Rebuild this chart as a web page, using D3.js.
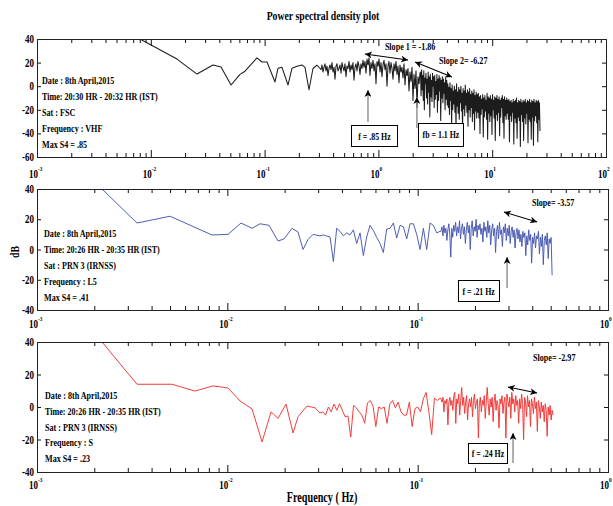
<!DOCTYPE html>
<html>
<head>
<meta charset="utf-8">
<script src="https://cdn.jsdelivr.net/npm/d3@7"></script>
<style>
  body { margin: 0; background: #fff; }
  svg { display: block; font-family: "Liberation Serif", "Times New Roman", serif; font-weight: bold; }
</style>
</head>
<body>
<svg id="chart" width="613" height="506"></svg>
<script>
// ---- data (Hz, dB) ----

// FSC / VHF : low frequency part
const fscFreq = [0.00804, 0.01699, 0.02547, 0.0352, 0.0414, 0.0507, 0.0608, 0.0673, 0.0857, 0.0949, 0.105,
  0.1234, 0.1312, 0.1422, 0.1606, 0.1741, 0.1926, 0.2131, 0.2265, 0.2455, 0.2662, 0.2886, 0.3068];
const fscDb = [40, 23, 10.3, 18, 16.3, 1, 10, 12.7, 24, 20.5, 20.5, 3.6, 15.3, 16, 1, 15.3, 17, 18, 16, -3, 15, 17.8, 15];
// FSC / VHF : dense parts (values spread evenly in log f over the range)
const fscBand1Range = [0.3068, 2.32];
const fscBand1Db = [14, 18, 12, 16, 19, 13, 17, 9, 15, 18, 14, 20, 12, 16, 6, 17, 19, 13, 15, 18, 11, 20, 16, 13, 19, 8, 17, 15, 21, 12,
  18, 14, 20, 5, 16, 19, 13, 21, 17, 10, 19, 15, 22,
  16, 21, 11, 23, 18, 24, 9, 20, 15, 22, 13, 19, 2, 21, 17, 23, 12, 20, 8, 18, 22, 14, 19, 0, 17, 21, 11, 20, 15, 6, 19,
  13, 21, 10, 17, 3, 18, 12, 16, 7, 19, 1, 14, 9,
  15, -4, 12, 4, 16, -12, 10, -2, 13, -18, 8, 2, 11];
const fscBand2Range = [2.32, 26.3];
const fscBand2Db = [12, -8, 14, -3, 9, -12, 13, -20, 7, 2, 11, -10, 6, -15, 12, -5, 8, -26, 10, -9, 5, -13, 11, 0, 8, -18, 9, -11, 4, -7,
  10, -22, 6, -12, 9, -4, 7, -29, 5, -10, 8, -14, 6, -6, 3, -20, 7, -11, 5, -16,
  2, -18, -1, -24, 3, -12, -2, -33, 1, -20, -4, -15, 0, -22, -3, -36, 2, -17, -5, -23, -1, -28, -3, -14, 0, -21, -6, -38, -2, -19,
  -4, -25, 1, -16, -6, -22, -3, -34, -5, -20, -2, -26, -7, -18, -4, -30, -6, -23, -3, -37, -8, -21, -5, -27, -7,
  -22, -6, -27, -9, -40, -8, -24, -11, -19, -7, -43, -10, -26, -8, -21, -12, -28, -6, -45, -9, -23, -10, -30, -8, -25, -11, -41, -7, -20, -12,
  -27, -9, -46, -10, -24, -8, -29, -11, -22, -9, -42, -12, -26, -10, -18, -8, -31, -11, -44, -9, -25, -12, -28, -10, -23,
  -12, -28, -11, -47, -13, -25, -12, -30, -14, -22, -11, -49, -13, -27, -12, -31, -10, -44, -14, -26, -12, -29, -13, -51, -11, -24, -14, -30, -12, -46,
  -13, -27, -11, -32, -14, -23, -12, -48, -13, -28, -11, -30, -14, -45, -12, -26, -13, -50, -11, -29, -14, -25, -12, -31, -13, -47, -12, -28, -14, -38];

// PRN 3 / L5
const l5Freq = [0.002196, 0.003353, 0.005001, 0.00831, 0.01009, 0.0118, 0.01348, 0.01485, 0.01656, 0.01847, 0.01986,
  0.02188, 0.02352, 0.02499, 0.02655, 0.0282, 0.03069];
const l5Db = [40, 17.5, 22, 9.6, 10, 17.5, 14, 17, 16, 5.6, 7, 14, 11.6, 0, 6.6, 10, 9];
const l5Band1Range = [0.03069, 0.1311];
const l5Band1Db = [9.6, 8.9, 8.3, -8, 14, 12, 9, 11, 9.6, 13, 4, 11, -4, 8.3, 16, 12.5, 8, 4, -2, 13.5, 14, 17.5, 7.6, 16, 15, 7, 17, 17,
  10, 0, 14, 0, 17.5, 16, 11, 12];
const l5Band2Range = [0.1311, 0.5085];
const l5Band2Db = [12, 15, 9, 16, 11, 14, 6, 13, 17, 10, -5, 14, 8, 16, 12, 18, 9, 15, 11, 19, 7, 14, 17, 10, 15, 4, 13, 18, 11, 16,
  0, 14, 19, 9, 15, 12, 20, 8, 16, 13,
  17, 10, 14, 5, 18, 12, 15, 8, 19, 11, 16, 3, 13, 17, 9, 14, -2, 12, 16, 7, 18, 10, 13, 2, 15, 11, 17, 6, 14, 9,
  16, 4, 12, 15, 8, 13, 1, 11, 14, 7,
  13, 5, 10, 2, 12, 8, 11, -4, 9, 3, 13, 6, 10, -9, 8, 4, 11, 1, 9, 7, 12, -3, 8, 2, 10, -10, 6, 9, 3, 11, -6, 7, 4, 8, -17];

// PRN 3 / S
const sFreq = [0.002196, 0.003353, 0.005123, 0.006766, 0.008412, 0.01009, 0.01166, 0.01348, 0.01522, 0.01697, 0.01847,
  0.02035, 0.02214, 0.02352, 0.02623, 0.0289, 0.03069];
const sDb = [40, 14, 14, 9.8, 13, 11.7, 3.7, -1.2, -21.5, -3, -7, 1.8, -16, -6, 0.6, -0.5, -3.7];
const sBand1Range = [0.03069, 0.1311];
const sBand1Db = [-3, -5, 0, -3, 1.8, -2, 2, -2, -6, -5.5, -18.5, 1, -0.5, -3, -5, -10, 2.5, 4, 0.5, -12, 0, -1, 0, -10, 1.8, 4,
  -0.5, 3, -3, -5, -5, 3, -12, -1, 0, -3, 5, 9, -3, -17, 5.5, 4, 5.5];
const sBand2Range = [0.1311, 0.5146];
const sBand2Db = [5, 3, 6, -3, 4, 2, 5, -11, 3, 6, 1, 4, -2, 7, 9, -10, 5, 2, 8, -5, 4, 12, 1, 6, -4, 3, 7, -8, 2, 5,
  0, 6, -6, 4, 8, -1, 3, 5, -19, 2,
  6, -3, 4, 1, 7, -7, 3, 12, 2, -5, 5, 0, 6, -9, 3, 8, -2, 4, 1, -13, 5, 2, 7, -4, 3, 6, -19, 8, 4, 0,
  6, -7, 9, 2, 5, -3, 7, 1, 4, -10,
  5, -1, 8, 2, -20, 6, 3, -6, 7, 0, 4, -12, 5, 2, -4, 6, -1, 3, -15, 4, 0, -7, 3, -3, 1, -9, 2, -2, -18, 0, -5, 1, -8, -2, -5];

// labels
const titleText = "Power spectral density plot";
const xLabel = "Frequency ( Hz)";
const yLabel = "dB";
const fscInfo = ["Date : 8th April,2015", "Time: 20:30 HR - 20:32 HR (IST)", "Sat : FSC", "Frequency : VHF", "Max S4 = .85"];
const l5Info = ["Date : 8th April,2015", "Time: 20:26 HR - 20:35 HR (IST)", "Sat : PRN 3 (IRNSS)", "Frequency : L5", "Max S4 = .41"];
const sInfo = ["Date : 8th April,2015", "Time: 20:26 HR - 20:35 HR (IST)", "Sat : PRN 3 (IRNSS)", "Frequency : S", "Max S4 = .23"];
const fscYTicks = [40, 20, 0, -20, -40, -60];
const irnssYTicks = [40, 20, 0, -20, -40];

// ---- helpers ----
const SX = 0.75; // condensed look of the original font

function buildSeries(freq, db, bands) {
  var pts = freq.map(function (f, i) { return [f, db[i]]; });
  bands.forEach(function (b) {
    var a = b.range[0], z = b.range[1], n = b.db.length;
    b.db.forEach(function (v, i) {
      pts.push([a * Math.pow(z / a, (i + 1) / n), v]);
    });
  });
  return pts;
}

function txt(onto, x, y, s, size, anchor) {
  return onto.append("text")
    .attr("transform", "translate(" + x + "," + y + ") scale(" + SX + ",1)")
    .attr("text-anchor", anchor || "start")
    .attr("font-size", size)
    .text(s);
}

const panels = [
  {
    left: 37, right: 606, top: 39, bottom: 157, xDomain: [1e-3, 1e2], yDomain: [-60, 40], yTicks: fscYTicks,
    color: "#1c1c1c", width: 1.05, labelDy: 21, info: fscInfo, infoX: 42, infoY: 84, infoStep: 16,
    series: buildSeries(fscFreq, fscDb, [{ range: fscBand1Range, db: fscBand1Db }, { range: fscBand2Range, db: fscBand2Db }]),
    arrows: [[0.762, 27.3, 1.82, 22.2], [2.10, 20.5, 4.43, 7.8]],
    notes: [[1.14, 30.5, "Slope 1 = -1.86"], [3.41, 19.2, "Slope 2= -6.27"]],
    pointers: [[0.81, -30.3, -3.2], [2.18, -35.4, -9.2]],
    boxes: [[0.586, 1.457, -33.7, -51.5, "f = .85 Hz"], [2.27, 5.54, -31.2, -51.5, "fb = 1.1 Hz"]]
  },
  {
    left: 37, right: 608, top: 189, bottom: 310, xDomain: [1e-3, 1], yDomain: [-40, 40], yTicks: irnssYTicks,
    color: "#4656b0", width: 0.95, labelDy: 18, info: l5Info, infoX: 44, infoY: 237, infoStep: 16,
    series: buildSeries(l5Freq, l5Db, [{ range: l5Band1Range, db: l5Band1Db }, { range: l5Band2Range, db: l5Band2Db }]),
    arrows: [[0.284, 24.8, 0.424, 18.2]],
    notes: [[0.399, 28.8, "Slope= -3.57"]],
    pointers: [[0.295, -25.5, -5.0]],
    boxes: [[0.163, 0.268, -20.8, -34.7, "f = .21 Hz"]]
  },
  {
    left: 37, right: 608, top: 342, bottom: 472, xDomain: [1e-3, 1], yDomain: [-40, 40], yTicks: irnssYTicks,
    color: "#f03434", width: 0.95, labelDy: 17, info: sInfo, infoX: 45, infoY: 399, infoStep: 15.8,
    series: buildSeries(sFreq, sDb, [{ range: sBand1Range, db: sBand1Db }, { range: sBand2Range, db: sBand2Db }]),
    arrows: [[0.298, 12.3, 0.424, 8.6]],
    notes: [[0.404, 28.3, "Slope= -2.97"]],
    pointers: [[0.317, -34.5, -16]],
    boxes: [[0.184, 0.298, -22.2, -34.5, "f = .24 Hz"]]
  }
];

// ---- drawing ----
const svg = d3.select("#chart");
const defs = svg.append("defs");
defs.append("marker")
  .attr("id", "head")
  .attr("viewBox", "0 0 10 10")
  .attr("refX", 10).attr("refY", 5)
  .attr("markerWidth", 8).attr("markerHeight", 7)
  .attr("markerUnits", "userSpaceOnUse")
  .attr("orient", "auto-start-reverse")
  .append("path").attr("d", "M0,0 L10,5 L0,10 L3,5 Z").attr("fill", "#000");

txt(svg, 323, 20, titleText, 13, "middle");

panels.forEach(function (p, k) {
  var x = d3.scaleLog().domain(p.xDomain).range([p.left, p.right]);
  var y = d3.scaleLinear().domain(p.yDomain).range([p.bottom, p.top]);
  var g = svg.append("g");

  defs.append("clipPath").attr("id", "clip" + k)
    .append("rect").attr("x", p.left).attr("y", p.top)
    .attr("width", p.right - p.left).attr("height", p.bottom - p.top);

  // spectrum line
  g.append("path")
    .datum(p.series)
    .attr("clip-path", "url(#clip" + k + ")")
    .attr("fill", "none")
    .attr("stroke", p.color)
    .attr("stroke-width", p.width)
    .attr("stroke-linejoin", "round")
    .attr("d", d3.line().x(function (d) { return x(d[0]); }).y(function (d) { return y(d[1]); }));

  // ticks
  var lo = Math.round(Math.log10(p.xDomain[0])), hi = Math.round(Math.log10(p.xDomain[1]));
  var majors = d3.range(lo, hi + 1).map(function (e) { return Math.pow(10, e); });
  var minors = [];
  majors.slice(0, -1).forEach(function (m) { for (var j = 2; j <= 9; j++) minors.push(m * j); });

  function tickAxis(axis, ty, vals, len) {
    g.append("g").attr("transform", "translate(0," + ty + ")")
      .call(axis(x).tickValues(vals).tickSize(-len).tickFormat(""))
      .call(function (s) { s.select(".domain").remove(); s.selectAll("line").attr("stroke", "#111"); });
  }
  tickAxis(d3.axisBottom, p.bottom, minors, 4);
  tickAxis(d3.axisBottom, p.bottom, majors, 7);
  tickAxis(d3.axisTop, p.top, minors, 4);
  tickAxis(d3.axisTop, p.top, majors, 7);

  g.append("g").attr("transform", "translate(" + p.left + ",0)")
    .call(d3.axisLeft(y).tickValues(p.yTicks).tickSize(-4).tickFormat(""))
    .call(function (s) { s.select(".domain").remove(); s.selectAll("line").attr("stroke", "#111"); });
  g.append("g").attr("transform", "translate(" + p.right + ",0)")
    .call(d3.axisRight(y).tickValues(p.yTicks).tickSize(-4).tickFormat(""))
    .call(function (s) { s.select(".domain").remove(); s.selectAll("line").attr("stroke", "#111"); });

  // frame
  g.append("rect")
    .attr("x", p.left).attr("y", p.top)
    .attr("width", p.right - p.left).attr("height", p.bottom - p.top)
    .attr("fill", "none").attr("stroke", "#222").attr("stroke-width", 1)
    .attr("shape-rendering", "crispEdges");

  // y tick labels
  p.yTicks.forEach(function (v) {
    txt(g, p.left - 3, y(v) + 4, String(v), 12, "end");
  });
  // x tick labels 10^n
  majors.forEach(function (m) {
    var e = Math.round(Math.log10(m));
    txt(g, x(m) + 1, p.bottom + p.labelDy, "10", 12, "end");
    txt(g, x(m) + 1, p.bottom + p.labelDy - 7, String(e), 7, "start");
  });

  // info block
  p.info.forEach(function (s, i) {
    txt(g, p.infoX, p.infoY + i * p.infoStep, s, 10.8, "start");
  });

  // slope double arrows
  p.arrows.forEach(function (a) {
    g.append("line")
      .attr("x1", x(a[0])).attr("y1", y(a[1]))
      .attr("x2", x(a[2])).attr("y2", y(a[3]))
      .attr("stroke", "#000").attr("stroke-width", 1.1)
      .attr("marker-start", "url(#head)").attr("marker-end", "url(#head)");
  });
  p.notes.forEach(function (n) {
    txt(g, x(n[0]), y(n[1]), n[2], 10.8, "start");
  });
  // pointer arrows
  p.pointers.forEach(function (a) {
    g.append("line")
      .attr("x1", x(a[0])).attr("y1", y(a[1]))
      .attr("x2", x(a[0])).attr("y2", y(a[2]))
      .attr("stroke", "#8c8c8c").attr("stroke-width", 1.4)
      .attr("marker-end", "url(#head)");
  });
  // boxes
  p.boxes.forEach(function (b) {
    var bx = x(b[0]), bw = x(b[1]) - x(b[0]), by = y(b[2]), bh = y(b[3]) - y(b[2]);
    g.append("rect")
      .attr("x", bx).attr("y", by).attr("width", bw).attr("height", bh)
      .attr("fill", "#fff").attr("stroke", "#000").attr("stroke-width", 1)
      .attr("shape-rendering", "crispEdges");
    txt(g, bx + bw / 2, by + bh / 2 + 3.5, b[4], 10.5, "middle");
  });
});

// axis titles
svg.append("text")
  .attr("transform", "translate(19,252) rotate(-90) scale(" + SX + ",1)")
  .attr("text-anchor", "middle")
  .attr("font-size", 13)
  .text(yLabel);
txt(svg, 322, 502, xLabel, 15, "middle").attr("transform", "translate(322,502) scale(0.68,1)");
</script>
</body>
</html>
